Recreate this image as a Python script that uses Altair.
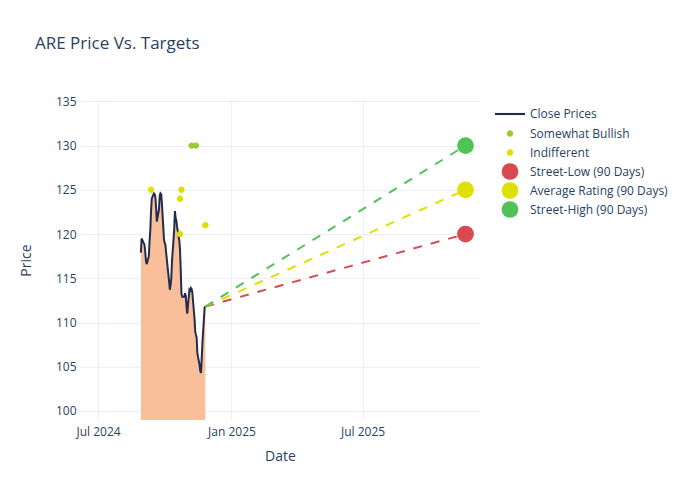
import altair as alt
import pandas as pd

# ---- data ----
dates = [
    "2024-08-29", "2024-08-30", "2024-09-03", "2024-09-04", "2024-09-05", "2024-09-06",
    "2024-09-09", "2024-09-10", "2024-09-11", "2024-09-12", "2024-09-13",
    "2024-09-16", "2024-09-17", "2024-09-18", "2024-09-19", "2024-09-20",
    "2024-09-23", "2024-09-24", "2024-09-25", "2024-09-26", "2024-09-27",
    "2024-09-30", "2024-10-01", "2024-10-02", "2024-10-03", "2024-10-04",
    "2024-10-07", "2024-10-08", "2024-10-09", "2024-10-10", "2024-10-11",
    "2024-10-14", "2024-10-15", "2024-10-16", "2024-10-17", "2024-10-18",
    "2024-10-21", "2024-10-22", "2024-10-23", "2024-10-24", "2024-10-25",
    "2024-10-28", "2024-10-29", "2024-10-30", "2024-10-31", "2024-11-01",
    "2024-11-04", "2024-11-05", "2024-11-06", "2024-11-07", "2024-11-08",
    "2024-11-11", "2024-11-12", "2024-11-13", "2024-11-14", "2024-11-15",
    "2024-11-18", "2024-11-19", "2024-11-20", "2024-11-21", "2024-11-22",
    "2024-11-25", "2024-11-26",
]
close = [
    117.9, 119.5, 118.8, 118.0, 117.0, 116.6,
    117.5, 119.2, 120.4, 122.5, 124.0,
    124.6, 124.5, 124.2, 123.0, 121.4,
    122.8, 124.3, 124.6, 124.5, 123.5,
    119.3, 119.0, 118.7, 117.8, 117.0,
    114.6, 113.7, 114.2, 115.0, 117.0,
    120.5, 122.6, 121.8, 121.5, 120.8,
    119.3, 118.3, 116.0, 113.3, 112.9,
    112.9, 113.3, 113.0, 111.8, 111.0,
    113.7, 113.6, 113.9, 113.8, 113.4,
    110.5, 109.0, 108.6, 108.3, 106.5,
    105.2, 104.5, 104.3, 106.0, 107.8,
    111.7, 111.8,
]

analyst_dates = ["2024-09-12", "2024-10-22", "2024-10-22", "2024-10-24",
                 "2024-11-07", "2024-11-13", "2024-11-26"]
analyst_values = [125, 124, 120, 125, 130, 130, 121]
analyst_ratings = ["Indifferent", "Indifferent", "Indifferent", "Indifferent",
                   "Somewhat Bullish", "Somewhat Bullish", "Indifferent"]

target_date = "2025-11-20"
target_labels = ["Street-Low (90 Days)", "Average Rating (90 Days)", "Street-High (90 Days)"]
target_values = [120, 125, 130]

legend_labels = ["Close Prices", "Somewhat Bullish", "Indifferent",
                 "Street-Low (90 Days)", "Average Rating (90 Days)", "Street-High (90 Days)"]
legend_colors = ["#232d4b", "#9acd32", "#dede00", "#d64a50", "#e0e000", "#50c258"]

# symbol shapes (unit box [-1, 1]); invisible move-to points give every legend row the same height
line_path = "M-1,-0.07L1,-0.07L1,0.07L-1,0.07ZM0,-0.557M0,0.557"
dot_path = "M-0.38,0A0.38,0.38,0,1,0,0.38,0A0.38,0.38,0,1,0,-0.38,0ZM0,-1M0,1"
legend_shapes = [line_path, dot_path, dot_path, "circle", "circle", "circle"]
legend_sizes = [900, 280, 280, 280, 280, 280]

TEXT = "#2a3f5f"
FONT = "Open Sans"

# ---- tables ----
price_df = pd.DataFrame({"date": dates, "close": close})
points_df = pd.DataFrame({
    "date": analyst_dates + [target_date] * len(target_values),
    "value": analyst_values + target_values,
    "series": analyst_ratings + target_labels,
})

x_scale = alt.Scale(domain=[alt.DateTime(year=2024, month=6, date=6),
                            alt.DateTime(year=2025, month=12, date=10)], nice=False)
y_scale = alt.Scale(domain=[98.98, 135.15], nice=False, zero=False)

x_axis = alt.Axis(values=[alt.DateTime(year=2024, month=7, date=1),
                          alt.DateTime(year=2025, month=1, date=1),
                          alt.DateTime(year=2025, month=7, date=1)],
                  format="%b %Y", labelPadding=6, titlePadding=12)
y_axis = alt.Axis(values=[100, 105, 110, 115, 120, 125, 130, 135],
                  labelPadding=4, titlePadding=22)

X = alt.X("date:T", scale=x_scale, axis=x_axis, title="Date")

area = alt.Chart(price_df).mark_area(color="#f8bf9a", opacity=1, clip=True).encode(
    x=X,
    y=alt.Y("close:Q", scale=y_scale, axis=y_axis, title="Price"),
)
line = alt.Chart(price_df).mark_line(color=legend_colors[0], strokeWidth=2).encode(
    x=X, y=alt.Y("close:Q", scale=y_scale),
)

proj_layers = []
for lab, val, col in zip(target_labels, target_values, legend_colors[3:]):
    d = pd.DataFrame({"date": [dates[-1], target_date], "value": [close[-1], val]})
    proj_layers.append(
        alt.Chart(d).mark_line(color=col, strokeWidth=2, strokeDash=[9, 9]).encode(
            x=X, y=alt.Y("value:Q", scale=y_scale)
        )
    )

points = alt.Chart(points_df).mark_point(filled=True, opacity=1).encode(
    x=X,
    y=alt.Y("value:Q", scale=y_scale),
    color=alt.Color("series:N", scale=alt.Scale(domain=legend_labels, range=legend_colors),
                    legend=alt.Legend(title=None, orient="none", legendX=415, legendY=-1,
                                      labelFont=FONT, labelFontSize=12, labelColor=TEXT,
                                      labelOffset=5, rowPadding=2, padding=0,
                                      symbolStrokeWidth=0)),
    shape=alt.Shape("series:N", scale=alt.Scale(domain=legend_labels, range=legend_shapes)),
    size=alt.Size("series:N", scale=alt.Scale(type="ordinal", domain=legend_labels,
                                              range=legend_sizes)),
)

chart = alt.layer(area, line, *proj_layers, points).properties(
    width=400, height=320,
    autosize=alt.AutoSizeParams(type="none"),
    padding={"left": 72, "top": 92, "right": 200, "bottom": 60},
    title=alt.TitleParams("ARE Price Vs. Targets", anchor="start", frame="group", dx=-45,
                          offset=42, fontSize=17, font=FONT, color=TEXT, fontWeight="normal"),
).configure_view(stroke=None).configure_axis(
    gridColor="#EBF0F8", domain=False, ticks=False, tickSize=0,
    labelFont=FONT, labelFontSize=12, labelColor=TEXT,
    titleFont=FONT, titleFontSize=14, titleColor=TEXT, titleFontWeight="normal",
)

chart.save("out.html", embed_options={"renderer": "svg", "actions": False})
